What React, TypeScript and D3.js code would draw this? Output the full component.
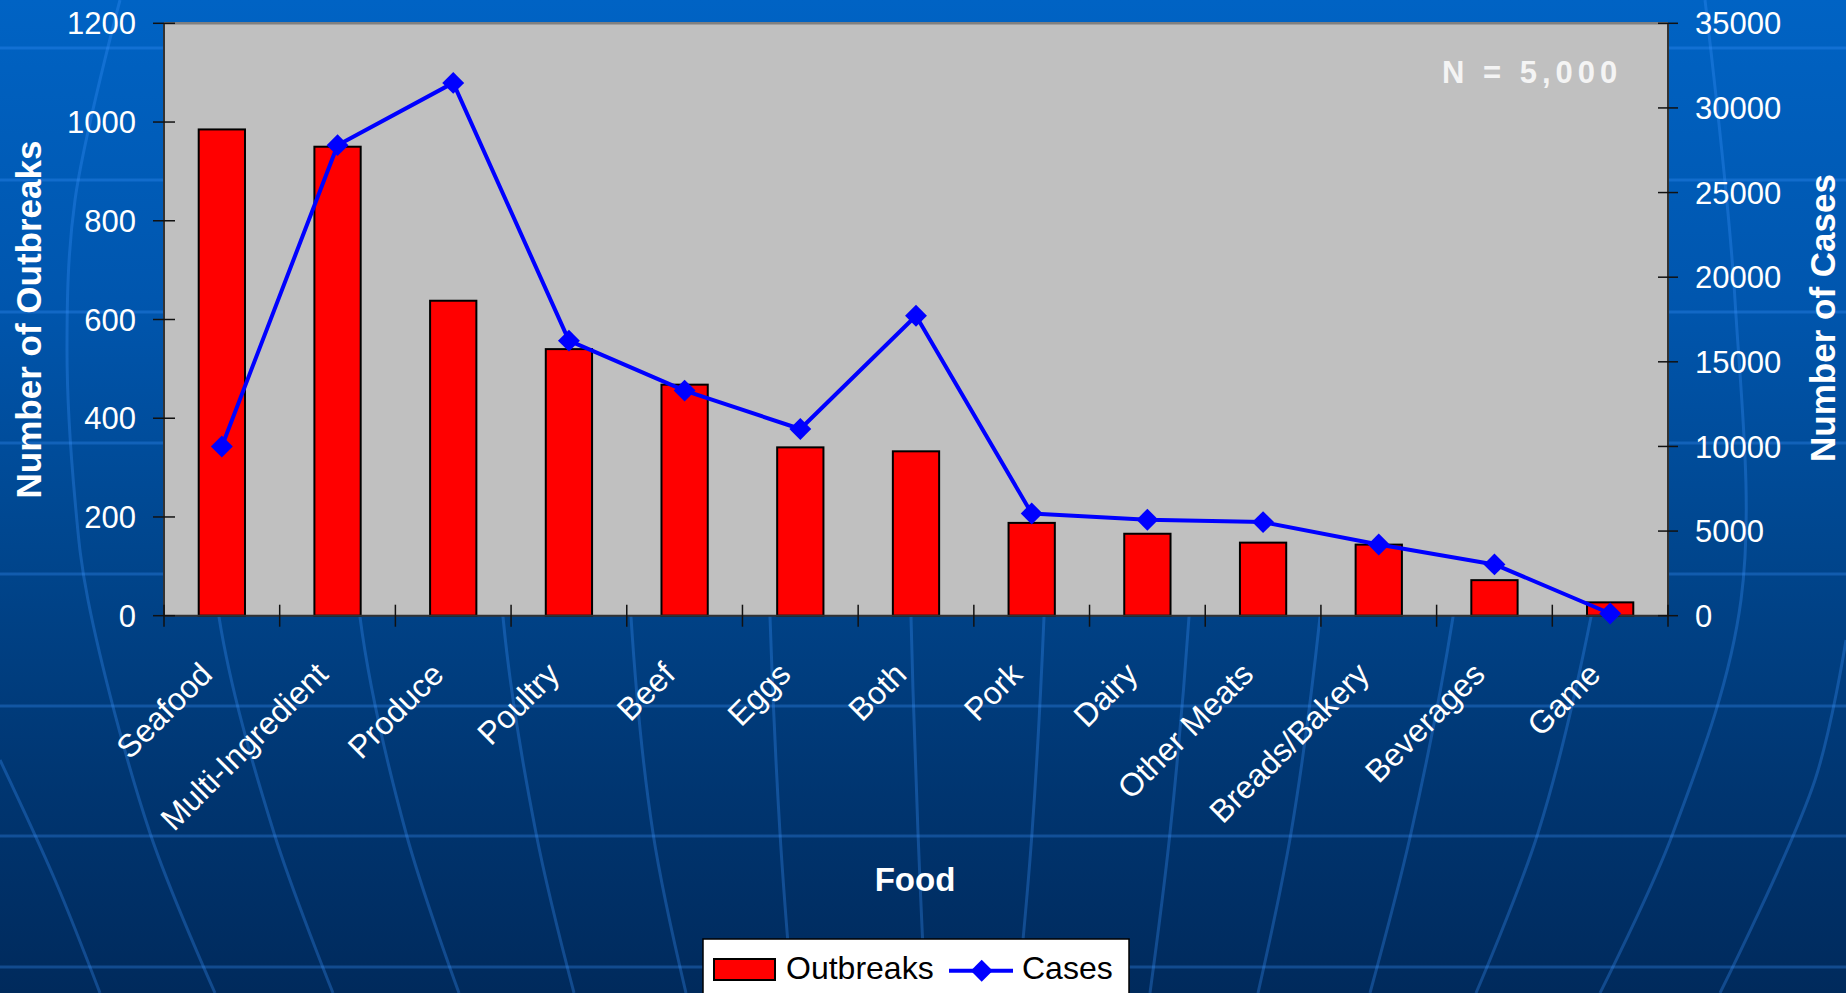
import * as d3 from 'd3';

// outbreaks and cases by food category
const categories = [
  'Seafood', 'Multi-Ingredient', 'Produce', 'Poultry', 'Beef', 'Eggs', 'Both',
  'Pork', 'Dairy', 'Other Meats', 'Breads/Bakery', 'Beverages', 'Game',
];
const outbreaks = [985, 950, 638, 540, 468, 341, 333, 188, 166, 148, 144, 72, 27];
const cases = [10000, 27800, 31480, 16250, 13300, 11030, 17720, 6040, 5670, 5530, 4210, 3030, 130];
const leftTicks = [0, 200, 400, 600, 800, 1000, 1200];
const rightTicks = [0, 5000, 10000, 15000, 20000, 25000, 30000, 35000];

// decorative globe grid of the slide background
const latitudes = [48, 180, 312, 443, 574, 706, 836, 967];
const meridians: [number, number][][] = [
  [[0, 760], [55, 880], [100, 993]],
  [[120, 0], [75, 200], [67, 350], [75, 500], [88, 600], [150, 833], [215, 993]],
  [[205, 400], [219, 617], [274, 833], [333, 993]],
  [[350, 400], [360, 617], [406, 833], [459, 993]],
  [[495, 400], [503, 617], [536, 833], [574, 993]],
  [[625, 400], [631, 617], [653, 833], [686, 993]],
  [[766, 400], [770, 617], [780, 833], [792, 993]],
  [[908, 400], [911, 617], [918, 833], [925, 993]],
  [[1050, 400], [1044, 617], [1032, 833], [1018, 993]],
  [[1200, 400], [1189, 617], [1170, 833], [1150, 993]],
  [[1338, 400], [1320, 617], [1291, 833], [1258, 993]],
  [[1480, 400], [1453, 617], [1411, 833], [1370, 993]],
  [[1625, 400], [1591, 617], [1538, 833], [1476, 993]],
  [[1705, 0], [1735, 300], [1741, 600], [1673, 833], [1600, 993]],
  [[1846, 640], [1815, 780], [1720, 993]],
];

const W = 1846;
const H = 993;
const font = '"Liberation Sans", Arial, sans-serif';

const App = () => {
  const left = 164;
  const right = 1668;
  const top = 23.3;
  const bottom = 615.7;

  const x = d3
    .scaleBand()
    .domain(categories)
    .range([left, right])
    .paddingInner(0.6)
    .paddingOuter(0.3);
  const yL = d3.scaleLinear().domain([0, 1200]).range([bottom, top]);
  const yR = d3.scaleLinear().domain([0, 35000]).range([bottom, top]);

  const cx = (c: string) => (x(c) as number) + x.bandwidth() / 2;
  const step = x.step();
  const boundaries = d3.range(categories.length + 1).map((i) =>
    i === 0 ? left : cx(categories[i - 1]) + step / 2
  );

  const casesLine = d3
    .line<number>()
    .x((_, i) => cx(categories[i]))
    .y((d) => yR(d))(cases);

  const diamond = d3.symbol(d3.symbolSquare, 240)() as string;
  const bgCurve = d3.line().curve(d3.curveCatmullRom);

  return (
    <div style={{ position: 'fixed', left: 0, top: 0 }}>
      <svg width={W} height={H} style={{ display: 'block' }} fontFamily={font}>
        <defs>
          <linearGradient id="bg" x1="0" y1="0" x2="0" y2="1">
            <stop offset="0" stopColor="#0063c4" />
            <stop offset="0.3" stopColor="#0056ae" />
            <stop offset="0.55" stopColor="#00468e" />
            <stop offset="0.8" stopColor="#003570" />
            <stop offset="1" stopColor="#002a5c" />
          </linearGradient>
        </defs>
        <rect width={W} height={H} fill="url(#bg)" />
        <g fill="none" stroke="rgba(60,150,255,0.3)" strokeWidth={3}>
          {latitudes.map((ly) => (
            <line key={ly} x1={0} x2={W} y1={ly} y2={ly} />
          ))}
          {meridians.map((m, i) => (
            <path key={i} d={bgCurve(m) as string} />
          ))}
        </g>

        {/* plot area */}
        <rect x={left} y={top} width={right - left} height={bottom - top} fill="#c0c0c0" />
        <line x1={left} x2={right} y1={top} y2={top} stroke="#808080" strokeWidth={2.5} />

        {/* bars */}
        <g fill="#ff0000" stroke="#000" strokeWidth={2}>
          {categories.map((c, i) => (
            <rect
              key={c}
              x={x(c)}
              y={yL(outbreaks[i])}
              width={x.bandwidth()}
              height={yL(0) - yL(outbreaks[i])}
            />
          ))}
        </g>

        {/* axes */}
        <g stroke="#333" strokeWidth={2}>
          <line x1={left} x2={left} y1={top} y2={bottom} />
          <line x1={right} x2={right} y1={top} y2={bottom} />
          <line x1={left} x2={right} y1={bottom} y2={bottom} />
        </g>
        <g stroke="#111" strokeWidth={1.5}>
          {leftTicks.map((t) => (
            <line key={t} x1={left - 11} x2={left + 11} y1={yL(t)} y2={yL(t)} />
          ))}
          {rightTicks.map((t) => (
            <line key={t} x1={right - 10} x2={right + 10} y1={yR(t)} y2={yR(t)} />
          ))}
          {boundaries.map((b, i) => (
            <line key={i} x1={b} x2={b} y1={bottom - 11} y2={bottom + 11} />
          ))}
        </g>

        {/* cases line */}
        <path d={casesLine as string} fill="none" stroke="#0000ff" strokeWidth={4} strokeLinejoin="round" />
        <g fill="#0000ff">
          {cases.map((v, i) => (
            <path
              key={i}
              d={diamond}
              transform={`translate(${cx(categories[i])},${yR(v)}) rotate(45)`}
            />
          ))}
        </g>

        {/* tick labels */}
        <g fill="#fff" fontSize={31}>
          {leftTicks.map((t) => (
            <text key={t} x={136} y={yL(t)} dy="0.36em" textAnchor="end">
              {t}
            </text>
          ))}
          {rightTicks.map((t) => (
            <text key={t} x={1695} y={yR(t)} dy="0.36em" textAnchor="start">
              {t}
            </text>
          ))}
        </g>
        <g fill="#fff" fontSize={32}>
          {categories.map((c) => (
            <text
              key={c}
              transform={`translate(${cx(c) - 24},660) rotate(-45)`}
              dy="0.72em"
              textAnchor="end"
            >
              {c}
            </text>
          ))}
        </g>

        {/* titles */}
        <g fill="#fff" fontWeight="bold">
          <text transform="translate(40.7,319.5) rotate(-90)" textAnchor="middle" fontSize={35}>
            Number of Outbreaks
          </text>
          <text transform="translate(1835,318) rotate(-90)" textAnchor="middle" fontSize={35}>
            Number of Cases
          </text>
          <text x={915} y={890.7} textAnchor="middle" fontSize={33}>
            Food
          </text>
        </g>
        <text x={1442} y={82.7} fill="#f4f4f4" fontWeight="bold" fontSize={31} letterSpacing={5}>
          N = 5,000
        </text>

        {/* legend */}
        <g>
          <rect x={703} y={939} width={426} height={70} fill="#fff" stroke="#000" strokeWidth={1.5} />
          <rect x={714} y={959} width={61} height={21} fill="#ff0000" stroke="#000" strokeWidth={2} />
          <text x={786} y={979} fontSize={32} fill="#000">
            Outbreaks
          </text>
          <line x1={949} x2={1013} y1={970.7} y2={970.7} stroke="#0000ff" strokeWidth={4} />
          <path d={diamond} transform="translate(981.7,970.7) rotate(45)" fill="#0000ff" />
          <text x={1022} y={979} fontSize={32} fill="#000">
            Cases
          </text>
        </g>
      </svg>
    </div>
  );
};

export default App;
